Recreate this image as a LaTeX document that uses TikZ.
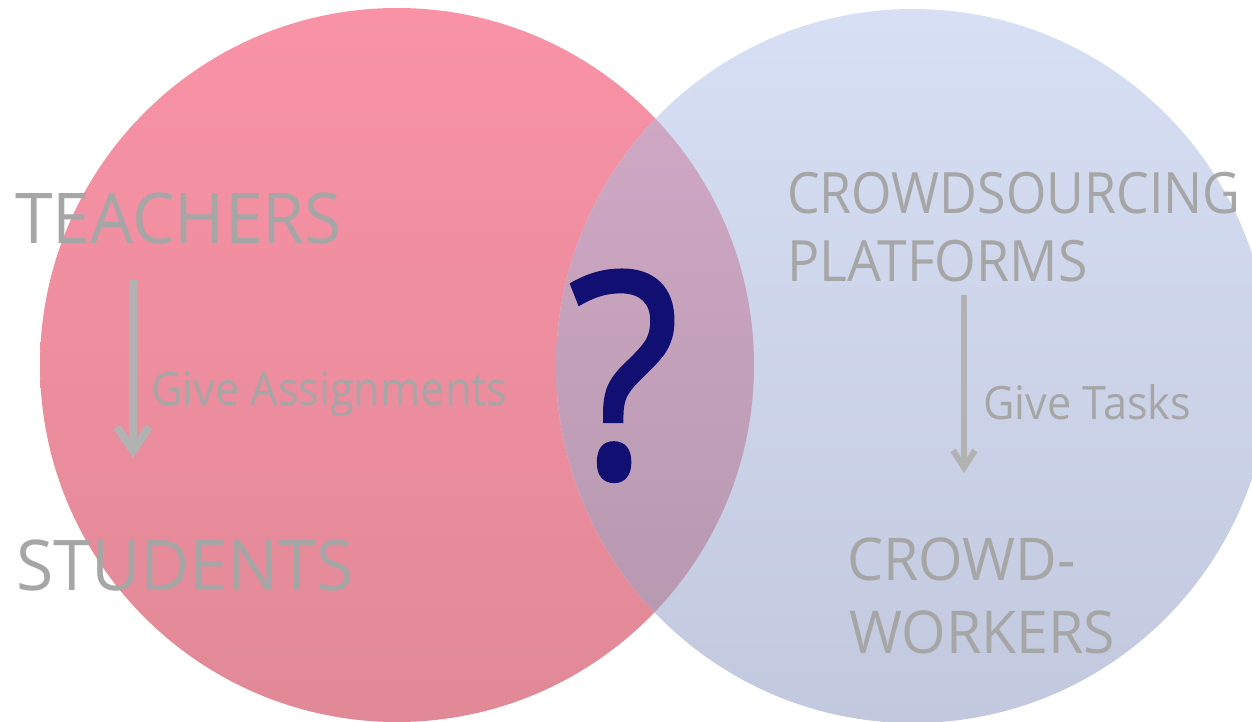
\documentclass[tikz,border=0pt]{standalone}
\usepackage{fontspec}
\setmainfont{Open Sans}[FakeStretch=0.94]
\newfontfamily\widefont{Open Sans}[FakeStretch=0.97]
\newfontfamily\tightfont{Open Sans}[FakeStretch=0.91]
\newfontfamily\qfont{Open Sans}[FakeStretch=0.9, FakeBold=1.5]
\usepackage{tikz}
\usetikzlibrary{arrows.meta, positioning}

\definecolor{pinktop}{RGB}{249,146,166}
\definecolor{pinkbot}{RGB}{225,137,151}
\definecolor{bluetop}{RGB}{215,223,245}
\definecolor{bluebot}{RGB}{194,201,222}
\definecolor{lenstop}{RGB}{212,170,200}
\definecolor{lensbot}{RGB}{178,150,172}
\definecolor{wordgray}{RGB}{166,166,166}
\definecolor{arrowgray}{RGB}{178,178,178}
\definecolor{navyq}{RGB}{18,15,115}

\def\radius{357}

\tikzset{
  venntext/.style={text=wordgray, inner sep=0pt, anchor=base west},
  flow/.style={arrowgray, line width=8pt, -{Straight Barb[length=24pt, width=32pt]}},
  thinflow/.style={arrowgray, line width=6pt, -{Straight Barb[length=17pt, width=22pt]}}
}

\begin{document}
\begin{tikzpicture}[x=1pt, y=-1pt]

\useasboundingbox (0,0) rectangle (1252,722);

% circles
\shade[top color=pinktop, bottom color=pinkbot] (397,365) circle (\radius);
\shade[top color=bluetop, bottom color=bluebot] (913,366) circle (\radius);
\begin{scope}
  \clip (397,365) circle (\radius);
  \shade[top color=lenstop, bottom color=lensbot] (913,366) circle (\radius);
\end{scope}

% left side
\node[venntext, font=\widefont\fontsize{70}{70}\selectfont] (teachers) at (15,243) {TEACHERS};
\node[venntext, font=\widefont\fontsize{70}{70}\selectfont] (students) at (16,590) {STUDENTS};
\node[venntext, font=\fontsize{46}{46}\selectfont] (assign) at (151,405) {Give Assignments};
\coordinate (ltop) at (133,280);
\coordinate (ltip) at (133,458);
\draw[flow] (ltop) -- (ltip);

% right side
\node[venntext, font=\tightfont\fontsize{57}{57}\selectfont] (crowd) at (787,213) {CROWDSOURCING};
\node[venntext, font=\fontsize{57}{57}\selectfont] (platforms) at (787,281) {PLATFORMS};
\node[venntext, font=\fontsize{46}{46}\selectfont] (tasks) at (983,419) {Give Tasks};
\node[venntext, font=\widefont\fontsize{59}{59}\selectfont] (crowdw) at (847,580) {CROWD-};
\node[venntext, font=\widefont\fontsize{59}{59}\selectfont] (workers) at (849,653) {WORKERS};
\coordinate (rtop) at (964,295);
\coordinate (rtip) at (964,473);
\draw[thinflow] (rtop) -- (rtip);

% overlap
\node[text=navyq, inner sep=0pt, anchor=base, font=\qfont\fontsize{285}{285}\selectfont] (question) at (624,477) {?};

\end{tikzpicture}
\end{document}
